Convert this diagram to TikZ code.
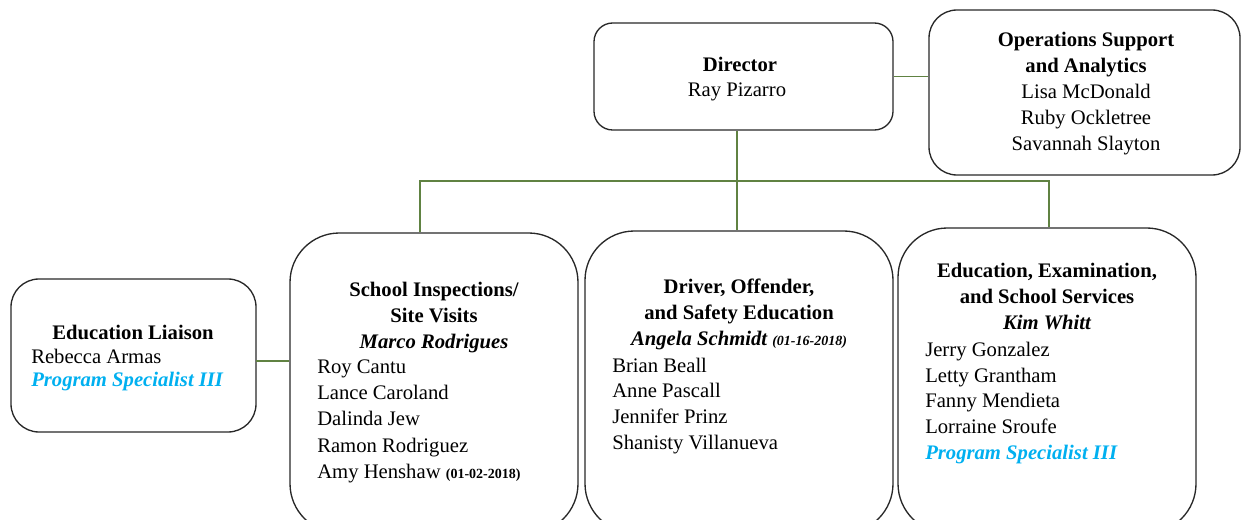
\documentclass[tikz,border=0pt]{standalone}
\usepackage{fontspec}
\setmainfont{Liberation Serif}
\usetikzlibrary{fit}
\definecolor{linkgreen}{RGB}{96,130,66}
\definecolor{specblue}{RGB}{0,176,240}
\definecolor{boxline}{RGB}{40,40,40}
\tikzset{
  orgbox/.style={draw=boxline, line width=1pt, inner sep=0pt, fill=white},
  link/.style={draw=linkgreen, line width=1pt},
  txt/.style={inner sep=0pt, font=\fontsize{15.5}{18}\selectfont},
  head/.style={txt, font=\fontsize{15.5}{18}\selectfont\bfseries, anchor=base},
  chief/.style={txt, font=\fontsize{15.5}{18}\selectfont\bfseries\itshape, anchor=base},
  ctr/.style={txt, anchor=base},
  member/.style={txt, anchor=base west},
  spec/.style={txt, font=\fontsize{15.5}{18}\selectfont\bfseries\itshape, text=specblue, anchor=base west},
}
\newcommand{\datesmall}[1]{{\fontsize{10.5}{12}\selectfont\bfseries #1}}
\begin{document}
\begin{tikzpicture}[x=0.75pt,y=-0.75pt]
\clip (0,0) rectangle (1241,520);
\fill[white] (0,0) rectangle (1241,520);

% boxes
\node[orgbox, rounded corners=14pt, fit={(594,23) (893,130)}] (dir) {};
\node[orgbox, rounded corners=21pt, fit={(929,10) (1240,175)}] (ops) {};
\node[orgbox, rounded corners=21pt, fit={(11,279) (256,432)}] (liaison) {};
\node[orgbox, rounded corners=37pt, fit={(290,233) (578,533)}] (school) {};
\node[orgbox, rounded corners=37pt, fit={(585,231) (893,533)}] (drv) {};
\node[orgbox, rounded corners=37pt, fit={(898,228) (1196,533)}] (edu) {};

% connectors
\coordinate (busL) at (420,181);
\coordinate (busR) at (1049,181);
\coordinate (dline) at (737,181);
\coordinate (lc) at (256,361);
\draw[link] (dir.east) -- (dir.east -| ops.west);
\draw[link] (dir.south -| dline) -- (dline |- drv.north);
\draw[link] (school.north -| busL) -- (busL) -- (busR) -- (busR |- edu.north);
\draw[link] (lc) -- (lc -| school.west);

% Director
\node[head] (dirT) at (740,72) {Director};
\node[ctr] (dirN) at (737,97) {Ray Pizarro};

% Operations
\node[head] (opsT1) at (1086,47) {Operations Support};
\node[head] (opsT2) at (1086,73) {and Analytics};
\node[ctr] (opsN1) at (1086,99) {Lisa McDonald};
\node[ctr] (opsN2) at (1086,125) {Ruby Ockletree};
\node[ctr] (opsN3) at (1086,151) {Savannah Slayton};

% Education Liaison
\node[head] (liaT) at (133,339) {Education Liaison};
\node[member] (liaN1) at (31,363) {Rebecca Armas};
\node[spec] (liaN2) at (31,386) {Program Specialist III};

% School Inspections
\node[head] (schT1) at (434,296) {School Inspections/};
\node[head] (schT2) at (434,322) {Site Visits};
\node[chief] (schC) at (434,348) {Marco Rodrigues};
\node[member] (schN1) at (317,373) {Roy Cantu};
\node[member] (schN2) at (317,399) {Lance Caroland};
\node[member] (schN3) at (317,425) {Dalinda Jew};
\node[member] (schN4) at (317,452) {Ramon Rodriguez};
\node[member] (schN5) at (317,478) {Amy Henshaw \datesmall{(01-02-2018)}};

% Driver, Offender
\node[head] (drvT1) at (739,293) {Driver, Offender,};
\node[head] (drvT2) at (739,319) {and Safety Education};
\node[chief] (drvC) at (739,345) {Angela Schmidt \datesmall{\itshape(01-16-2018)}};
\node[member] (drvN1) at (612,372) {Brian Beall};
\node[member] (drvN2) at (612,397) {Anne Pascall};
\node[member] (drvN3) at (612,423) {Jennifer Prinz};
\node[member] (drvN4) at (612,449) {Shanisty Villanueva};

% Education, Examination
\node[head] (eduT1) at (1047,277) {Education, Examination,};
\node[head] (eduT2) at (1047,303) {and School Services};
\node[chief] (eduC) at (1047,329) {Kim Whitt};
\node[member] (eduN1) at (925,356) {Jerry Gonzalez};
\node[member] (eduN2) at (925,382) {Letty Grantham};
\node[member] (eduN3) at (925,407) {Fanny Mendieta};
\node[member] (eduN4) at (925,433) {Lorraine Sroufe};
\node[spec] (eduN5) at (925,459) {Program Specialist III};
\end{tikzpicture}
\end{document}
